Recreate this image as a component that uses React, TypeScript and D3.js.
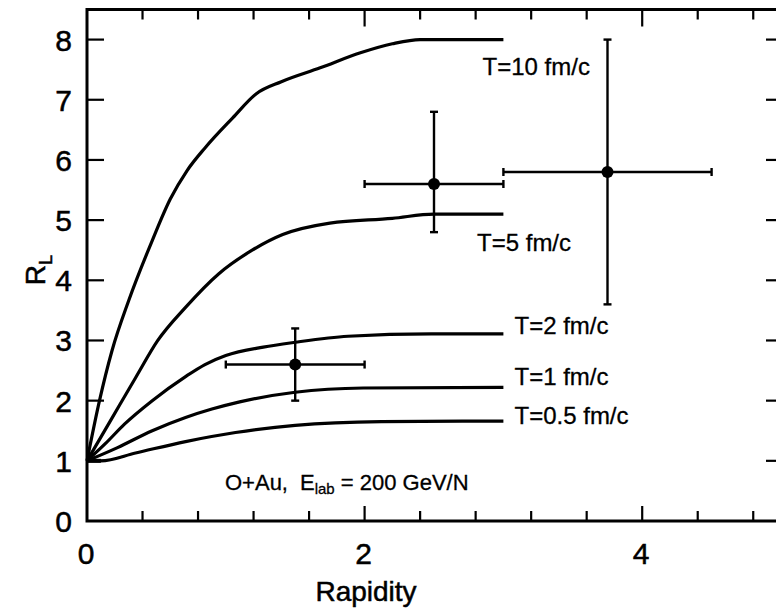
import React from "react";
import * as d3 from "d3";

const W = 776;
const H = 609;

// Curves: rapidity vs R_L for several times
const curveLabels = ["T=10 fm/c", "T=5 fm/c", "T=2 fm/c", "T=1 fm/c", "T=0.5 fm/c"];
const curveT10: [number, number][] = [
  [0, 1], [0.09, 2.0], [0.18, 2.83], [0.3, 3.66], [0.47, 4.66], [0.6, 5.35], [0.72, 5.82],
  [0.85, 6.2], [1.05, 6.7], [1.22, 7.1], [1.4, 7.3], [1.68, 7.53], [1.97, 7.78],
  [2.2, 7.93], [2.4, 8.0], [3.0, 8.0],
];
const curveT5: [number, number][] = [
  [0, 1], [0.18, 1.71], [0.35, 2.38], [0.51, 3.0], [0.71, 3.55], [0.95, 4.11], [1.19, 4.5],
  [1.41, 4.76], [1.75, 4.95], [2.2, 5.03], [2.5, 5.1], [3.0, 5.1],
];
const curveT2: [number, number][] = [
  [0, 1], [0.13, 1.28], [0.27, 1.61], [0.47, 2.0], [0.71, 2.4], [0.85, 2.6], [1.0, 2.75],
  [1.27, 2.89], [1.5, 2.97], [1.88, 3.07], [2.48, 3.11], [3.0, 3.11],
];
const curveT1: [number, number][] = [
  [0, 1], [0.22, 1.22], [0.47, 1.5], [0.71, 1.72], [0.9, 1.86], [1.1, 1.98], [1.5, 2.14],
  [1.99, 2.21], [3.0, 2.22],
];
const curveT05: [number, number][] = [
  [0, 1], [0.1, 1.0], [0.35, 1.13], [0.71, 1.32], [1.07, 1.47], [1.5, 1.59], [2.12, 1.65],
  [3.0, 1.66],
];
const curves = [curveT10, curveT5, curveT2, curveT1, curveT05];
// label anchor (data units): left x, baseline y
const labelX = [2.85, 2.81, 3.08, 3.08, 3.08];
const labelY = [7.41, 4.48, 3.1, 2.26, 1.61];

// Measured points with error bars
const ptX = [1.5, 2.5, 3.75];
const ptY = [2.6, 5.6, 5.8];
const ptXLo = [1.0, 2.0, 3.0];
const ptXHi = [2.0, 3.0, 4.5];
const ptYLo = [2.0, 4.8, 3.6];
const ptYHi = [3.2, 6.8, 8.0];

const xTickLabels = [0, 2, 4];
const yTickLabels = [0, 1, 2, 3, 4, 5, 6, 7, 8];

const FONT = "'Liberation Sans', Arial, Helvetica, sans-serif";

export default function App() {
  const x = d3.scaleLinear().domain([0, 5]).range([87, 781]);
  const y = d3.scaleLinear().domain([0, 8.5]).range([521, 9.5]);
  const line = d3
    .line<[number, number]>()
    .x((d) => x(d[0]))
    .y((d) => y(d[1]))
    .curve(d3.curveMonotoneX);

  const minorX = d3.range(1, 13).map((i) => i * 0.4);
  const isMajor = (v: number) => Math.abs(v - Math.round(v / 2) * 2) < 1e-6;
  const textStyle = { fill: "#000", stroke: "#000", strokeWidth: 0.5 };

  return (
    <svg
      width={W}
      height={H}
      style={{ position: "absolute", left: 0, top: 0, background: "#fff" }}
      fontFamily={FONT}
    >
      <rect x={0} y={0} width={W} height={H} fill="#fff" />
      {/* frame */}
      <rect
        x={x(0)}
        y={y(8.5)}
        width={x(5) - x(0)}
        height={y(0) - y(8.5)}
        fill="none"
        stroke="#000"
        strokeWidth={3}
      />
      {/* x ticks bottom & top */}
      {minorX.map((v, i) => {
        const len = isMajor(v) ? 15 : 10;
        return (
          <g key={"xt" + i} stroke="#000" strokeWidth={2.2}>
            <line x1={x(v)} x2={x(v)} y1={y(0)} y2={y(0) - len} />
            <line x1={x(v)} x2={x(v)} y1={y(8.5)} y2={y(8.5) + (isMajor(v) ? 17 : 10)} />
          </g>
        );
      })}
      {/* y ticks left & right */}
      {yTickLabels.slice(1).map((v) => (
        <g key={"yt" + v} stroke="#000" strokeWidth={2.2}>
          <line x1={x(0)} x2={x(0) + 17} y1={y(v)} y2={y(v)} />
          <line x1={x(5)} x2={x(5) - 15} y1={y(v)} y2={y(v)} />
        </g>
      ))}
      {/* tick labels */}
      {xTickLabels.map((v) => (
        <text key={"xl" + v} x={x(v) - 1} y={564} fontSize={30} textAnchor="middle" {...textStyle}>
          {v}
        </text>
      ))}
      {yTickLabels.map((v) => (
        <text key={"yl" + v} x={72} y={y(v) + 11} fontSize={30} textAnchor="end" {...textStyle}>
          {v}
        </text>
      ))}
      {/* axis titles */}
      <text x={366} y={601} fontSize={28} textAnchor="middle" {...textStyle}>
        Rapidity
      </text>
      <text transform={`translate(45,270) rotate(-90)`} fontSize={28} textAnchor="middle" {...textStyle}>
        R<tspan fontSize={18} dy={7}>L</tspan>
      </text>
      {/* curves */}
      {curves.map((c, i) => (
        <path key={"c" + i} d={line(c) || ""} fill="none" stroke="#000" strokeWidth={3.2} />
      ))}
      {/* small start mark */}
      <line x1={x(0)} x2={x(0.1)} y1={y(1)} y2={y(1)} stroke="#000" strokeWidth={4} />
      {/* curve labels */}
      {curveLabels.map((l, i) => (
        <text key={"cl" + i} x={x(labelX[i])} y={y(labelY[i])} fontSize={24} {...textStyle} strokeWidth={0.3}>
          {l}
        </text>
      ))}
      {/* data points */}
      {ptX.map((px, i) => (
        <g key={"p" + i} stroke="#000" strokeWidth={2.4}>
          <line x1={x(ptXLo[i])} x2={x(ptXHi[i])} y1={y(ptY[i])} y2={y(ptY[i])} />
          <line x1={x(px)} x2={x(px)} y1={y(ptYLo[i])} y2={y(ptYHi[i])} />
          <line x1={x(ptXLo[i])} x2={x(ptXLo[i])} y1={y(ptY[i]) - 4} y2={y(ptY[i]) + 4} />
          <line x1={x(ptXHi[i])} x2={x(ptXHi[i])} y1={y(ptY[i]) - 4} y2={y(ptY[i]) + 4} />
          <line x1={x(px) - 4} x2={x(px) + 4} y1={y(ptYLo[i])} y2={y(ptYLo[i])} />
          <line x1={x(px) - 4} x2={x(px) + 4} y1={y(ptYHi[i])} y2={y(ptYHi[i])} />
          <circle cx={x(px)} cy={y(ptY[i])} r={6} fill="#000" stroke="none" />
        </g>
      ))}
      {/* annotation */}
      <text x={225} y={490} fontSize={22} {...textStyle} strokeWidth={0.3}>
        O+Au,<tspan dx={12}>E</tspan>
        <tspan fontSize={15} dy={4}>lab</tspan>
        <tspan dy={-4}> = 200 GeV/N</tspan>
      </text>
    </svg>
  );
}
